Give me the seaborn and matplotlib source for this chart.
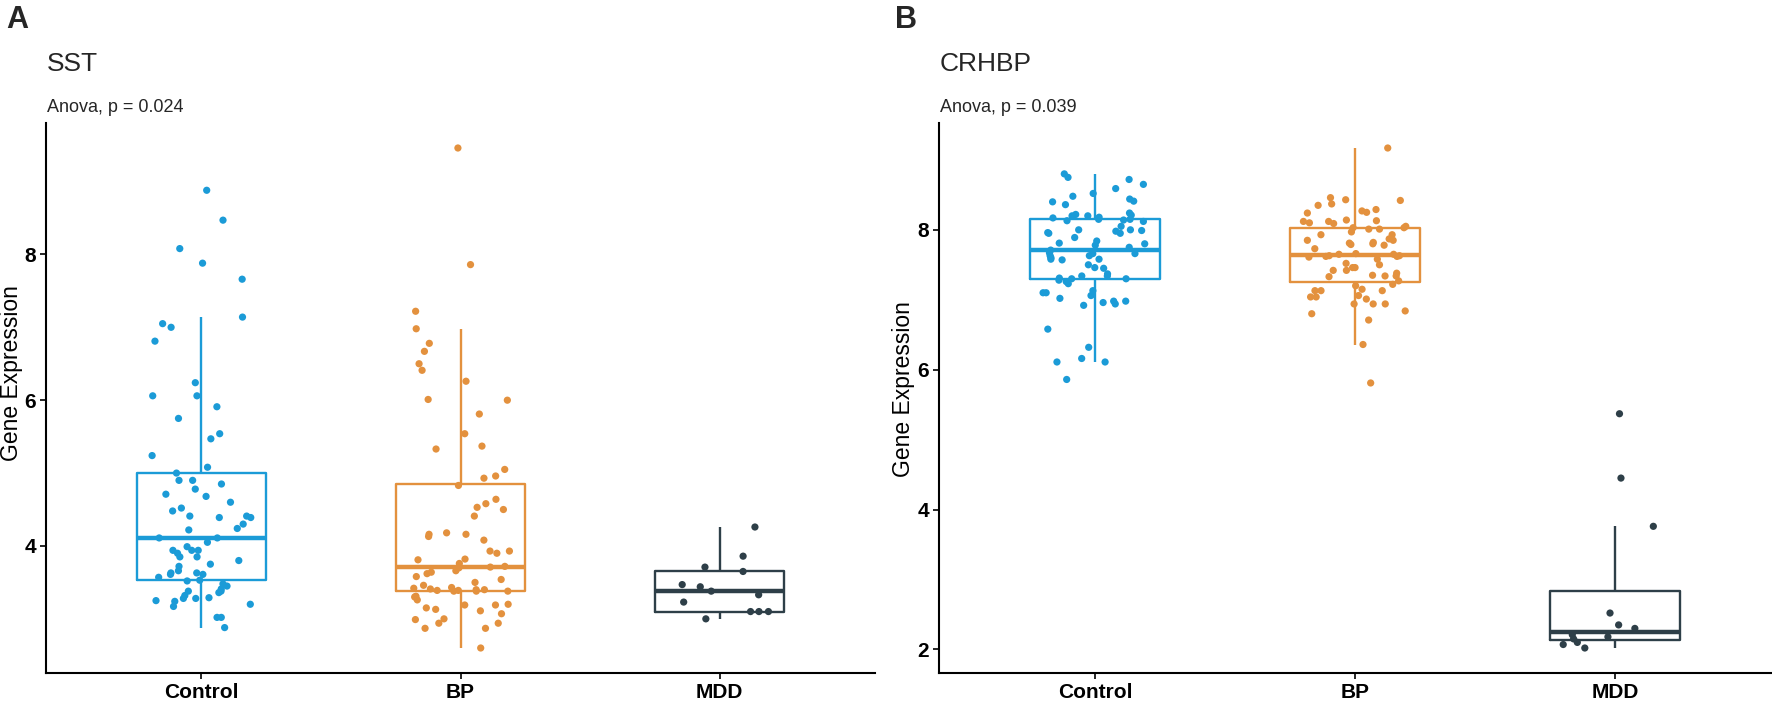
import numpy as np
import pandas as pd
import matplotlib
matplotlib.use("Agg")
import matplotlib.pyplot as plt
import seaborn as sns

# group labels and colours
groups = ["Control", "BP", "MDD"]
colors = ["#1B9BD7", "#E3913E", "#2E3F48"]

# SST expression per sample
sst_control = [8.88, 8.47, 8.08, 7.88, 7.66, 7.14, 7.05, 7.00, 6.81, 6.24, 6.06, 6.06, 5.91, 5.75,
               5.54, 5.47, 5.24, 5.08, 5.00,
               4.90, 4.90, 4.85, 4.78, 4.71, 4.68, 4.60, 4.52, 4.48, 4.41, 4.41, 4.39, 4.39, 4.30,
               4.24, 4.22, 4.11, 4.11, 4.05, 3.99, 3.94, 3.94, 3.94, 3.90, 3.85, 3.85, 3.80, 3.75,
               3.72, 3.66, 3.63, 3.63, 3.61, 3.61, 3.57,
               3.53, 3.52, 3.48, 3.45, 3.41, 3.38, 3.38, 3.36, 3.32, 3.29, 3.28, 3.28, 3.25, 3.24,
               3.20, 3.17, 3.02, 3.02, 2.88]
sst_bp = [9.46, 7.86, 7.22, 6.98, 6.78, 6.67, 6.50, 6.41, 6.26, 6.01, 6.00, 5.81, 5.54, 5.37,
          5.33, 5.05, 4.96, 4.93, 4.83,
          4.64, 4.58, 4.53, 4.50, 4.41, 4.18, 4.16, 4.16, 4.13, 4.08, 3.93, 3.93, 3.90, 3.82,
          3.81, 3.76, 3.72, 3.71, 3.70, 3.66, 3.64, 3.62, 3.58, 3.54, 3.50, 3.46, 3.43,
          3.42, 3.41, 3.40, 3.40, 3.39, 3.39, 3.38, 3.38, 3.38,
          3.31, 3.30, 3.26, 3.20, 3.19, 3.19, 3.15, 3.13, 3.11, 3.07, 3.00, 2.99, 2.94, 2.94,
          2.87, 2.87, 2.60]
sst_mdd = [4.26, 3.86, 3.71, 3.65, 3.47, 3.44, 3.38, 3.33, 3.23, 3.10, 3.10, 3.10, 3.00]

# CRHBP expression per sample
crhbp_control = [8.80, 8.75, 8.72, 8.65, 8.59, 8.52, 8.48, 8.44, 8.41, 8.40, 8.36, 8.24, 8.21,
                 8.22, 8.20, 8.20, 8.18, 8.17, 8.15, 8.15, 8.14, 8.13, 8.12,
                 8.05, 8.00, 7.99, 7.98, 8.00, 7.96, 7.95, 7.95, 7.89, 7.84, 7.81, 7.80, 7.78,
                 7.75, 7.71, 7.66, 7.67, 7.66, 7.63, 7.63, 7.60, 7.58, 7.58, 7.57, 7.50, 7.46,
                 7.45, 7.37, 7.34, 7.34, 7.31, 7.30, 7.30, 7.28, 7.26, 7.23,
                 7.13, 7.10, 7.10, 7.06, 7.02, 6.98, 6.98, 6.96, 6.94, 6.92, 6.58, 6.32, 6.16,
                 6.11, 6.11, 5.86]
crhbp_bp = [9.17, 8.46, 8.43, 8.42, 8.37, 8.35, 8.29, 8.27, 8.25, 8.24, 8.14, 8.12, 8.12, 8.13,
            8.10, 8.09, 8.05, 8.03, 8.03, 8.01, 8.01,
            7.97, 7.93, 7.93, 7.87, 7.85, 7.85, 7.82, 7.81, 7.80, 7.79, 7.78, 7.73,
            7.66, 7.65, 7.63, 7.62, 7.63, 7.62, 7.65, 7.61,
            7.58, 7.52, 7.50, 7.46, 7.46, 7.42, 7.42, 7.38, 7.35, 7.34, 7.34, 7.33, 7.27, 7.22,
            7.20,
            7.15, 7.13, 7.13, 7.13, 7.06, 7.04, 7.04, 7.01, 6.94, 6.94, 6.94, 6.84, 6.80, 6.71,
            6.36, 5.81]
crhbp_mdd = [5.37, 4.45, 3.76, 2.52, 2.35, 2.30, 2.21, 2.18, 2.15, 2.10, 2.07, 2.02]

panel_letters = ["A", "B"]
gene_titles = ["SST", "CRHBP"]
anova_texts = ["Anova, p = 0.024", "Anova, p = 0.039"]
yticks_list = [[4, 6, 8], [2, 4, 6, 8]]


def make_df(ctrl, bp, mdd):
    vals = ctrl + bp + mdd
    grp = ["Control"] * len(ctrl) + ["BP"] * len(bp) + ["MDD"] * len(mdd)
    return pd.DataFrame({"group": grp, "value": vals})


data = [make_df(sst_control, sst_bp, sst_mdd),
        make_df(crhbp_control, crhbp_bp, crhbp_mdd)]

sns.set_style("ticks")
plt.rcParams["font.family"] = ["Liberation Sans", "DejaVu Sans"]

W, H = 1772, 701
fig = plt.figure(figsize=(W / 100, H / 100), dpi=100)
axes = [fig.add_axes([46 / W, 28 / H, 829 / W, 550 / H]),
        fig.add_axes([939 / W, 28 / H, 832 / W, 550 / H])]
label_x = [-0.0277, -0.0288]
label_y = [0.546, 0.516]
letter_x = [6, 895]

np.random.seed(3)
palette = dict(zip(groups, colors))

for i, ax in enumerate(axes):
    df = data[i]
    sns.boxplot(data=df, x="group", y="value", hue="group", order=groups,
                hue_order=groups, palette=palette, fill=False, width=0.5,
                showfliers=False, showcaps=False, linewidth=1.7,
                medianprops={"linewidth": 3.2}, legend=False, ax=ax)
    sns.stripplot(data=df, x="group", y="value", hue="group", order=groups,
                  hue_order=groups, palette=palette, jitter=0.2, size=5.2,
                  linewidth=0, legend=False, ax=ax, zorder=3)

    lo, hi = df["value"].min(), df["value"].max()
    pad = 0.05 * (hi - lo)
    ax.set_ylim(lo - pad, hi + pad)
    ax.set_xlim(-0.6, 2.6)
    ax.set_yticks(yticks_list[i])

    sns.despine(ax=ax)
    for side in ["left", "bottom"]:
        ax.spines[side].set_linewidth(1.5)
        ax.spines[side].set_color("black")
    ax.tick_params(axis="both", length=4, width=1.2, color="black",
                   labelsize=15, pad=3, labelcolor="black")
    for lbl in ax.get_xticklabels() + ax.get_yticklabels():
        lbl.set_fontweight("bold")

    ax.set_xlabel("")
    ax.set_ylabel("Gene Expression", fontsize=16.5, color="black")
    ax.yaxis.set_label_coords(label_x[i], label_y[i])

    x0 = ax.get_position().x0
    fig.text(letter_x[i] / W, 1 - 5 / H, panel_letters[i], fontsize=22,
             fontweight="bold", ha="left", va="top")
    fig.text(x0 + 1 / W, 1 - 52 / H, gene_titles[i], fontsize=19,
             ha="left", va="top")
    fig.text(x0 + 1 / W, 1 - 99 / H, anova_texts[i], fontsize=13,
             ha="left", va="top")

fig.savefig("out.png", dpi=100)
